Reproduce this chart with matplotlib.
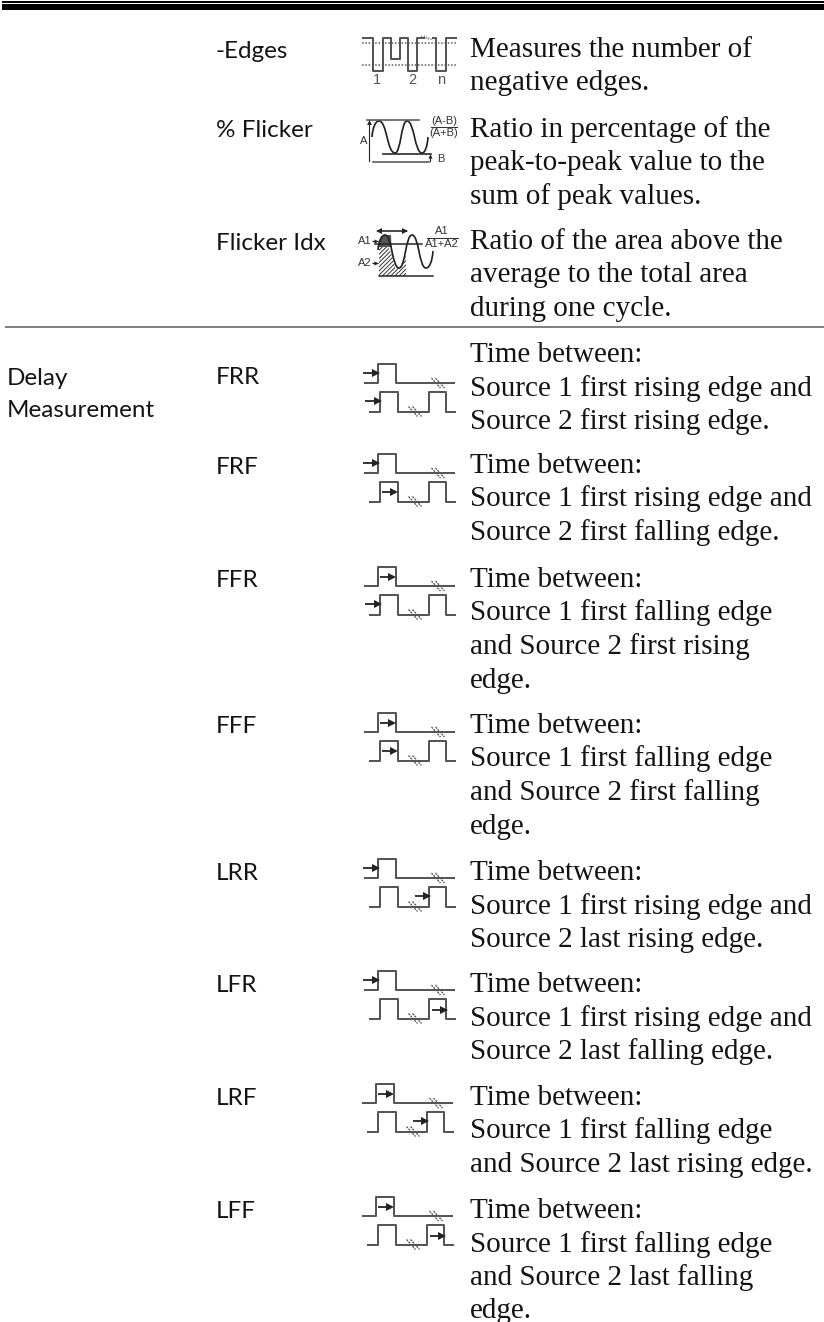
import matplotlib
matplotlib.use('Agg')
import matplotlib.pyplot as plt
from matplotlib.path import Path
from matplotlib.patches import PathPatch

# table content
names = ['-Edges', '% Flicker', 'Flicker Idx', 'FRR', 'FRF', 'FFR', 'FFF', 'LRR', 'LFR', 'LRF', 'LFF']
name_base = [58, 137, 250, 384, 474, 587, 733, 880, 992, 1105, 1218]
desc_base = [57, 137, 249, 362, 473, 587, 733, 880, 992, 1105, 1218]
descs = [
    ['Measures the number of', 'negative edges.'],
    ['Ratio in percentage of the', 'peak-to-peak value to the', 'sum of peak values.'],
    ['Ratio of the area above the', 'average to the total area', 'during one cycle.'],
    ['Time between:', 'Source 1 first rising edge and', 'Source 2 first rising edge.'],
    ['Time between:', 'Source 1 first rising edge and', 'Source 2 first falling edge.'],
    ['Time between:', 'Source 1 first falling edge', 'and Source 2 first rising', 'edge.'],
    ['Time between:', 'Source 1 first falling edge', 'and Source 2 first falling', 'edge.'],
    ['Time between:', 'Source 1 first rising edge and', 'Source 2 last rising edge.'],
    ['Time between:', 'Source 1 first rising edge and', 'Source 2 last falling edge.'],
    ['Time between:', 'Source 1 first falling edge', 'and Source 2 last rising edge.'],
    ['Time between:', 'Source 1 first falling edge', 'and Source 2 last falling', 'edge.'],
]
group_labels = ['Delay', 'Measurement']
group_base = [385, 417]

# delay icons: top of the icon, x shift, arrow on source 1, arrow on source 2
icon_top = [364, 454, 567, 713, 859, 971, 1084, 1197]
icon_dx = [0, 0, 0, 0, 0, 0, -2, -2]
icon_arrow1 = ['before', 'before', 'inside', 'inside', 'before', 'before', 'inside', 'inside']
icon_arrow2 = ['before', 'inside', 'before', 'inside', 'last_before', 'last_inside', 'last_before', 'last_inside']

INK = '#141414'
GREY = '#555555'
LINE_SPACE = 33.5


def px(w):
    return w * 0.72


def wave(ax, pts, color='#222222', lw=1.7):
    # curve through extremes with level tangents, steep at the two loose ends
    verts = [pts[0]]
    codes = [Path.MOVETO]
    last = len(pts) - 2
    for i, ((x0, y0), (x1, y1)) in enumerate(zip(pts[:-1], pts[1:])):
        mx = (x0 + x1) / 2
        c0 = (mx, y0)
        c1 = (mx, y1)
        if i == 0:
            c0 = (x0 + (x1 - x0) * 0.1, y0 + (y1 - y0) * 0.6)
        if i == last:
            c1 = (x1 - (x1 - x0) * 0.1, y1 - (y1 - y0) * 0.6)
        verts += [c0, c1, (x1, y1)]
        codes += [Path.CURVE4] * 3
    ax.add_patch(PathPatch(Path(verts, codes), fill=False, ec=color, lw=px(lw)))


def arrow(ax, x0, x1, y, color='#222222', lw=1.8, ms=5.5):
    ax.plot([x0, x1], [y, y], color=color, lw=px(lw), solid_capstyle='butt')
    ax.plot([x1 - 1.5], [y], marker='>', ms=ms, color=color, mew=0)


def hatch_break(ax, x, y):
    for off in (0, 4):
        ax.plot([x + off - 4.5, x + off + 4.5], [y - 5, y + 5], color='#555555', lw=px(1.3), ls=(0, (1.6, 0.7)))


def delay_icon(ax, top, dx, a1, a2):
    low1 = top + 19
    top2 = top + 28
    low2 = top + 47.5
    ax.plot([x + dx for x in (365, 378, 378, 396, 396, 454)],
            [low1, low1, top, top, low1, low1], color=GREY, lw=px(2))
    ax.plot([x + dx for x in (370, 380, 380, 398, 398, 429, 429, 446, 446, 455)],
            [low2, low2, top2, top2, low2, low2, top2, top2, low2, low2], color=GREY, lw=px(2))
    hatch_break(ax, 436 + dx, low1)
    hatch_break(ax, 413 + dx, low2)
    if a1 == 'before':
        arrow(ax, 363 + dx, 378 + dx, top + 9)
    else:
        arrow(ax, 380 + dx, 394 + dx, top + 10)
    pos = {'before': (365, 380, 37), 'inside': (382, 396, 38),
           'last_before': (415, 429, 37), 'last_inside': (432, 446, 39)}[a2]
    arrow(ax, pos[0] + dx, pos[1] + dx, top + pos[2])


def edges_icon(ax):
    xs = [363, 373, 373, 383, 383, 391, 391, 400, 400, 408, 408, 417, 417, 424]
    ys = [38, 38, 71, 71, 38, 38, 59, 59, 38, 38, 71, 71, 38, 38]
    ax.plot(xs, ys, color=GREY, lw=px(2))
    ax.plot([433, 436, 436, 446, 446, 456], [38, 38, 71, 71, 38, 38], color=GREY, lw=px(2))
    ax.plot([424, 433], [36, 40], color='#777777', lw=px(1.2), ls=(0, (1, 1)))
    ax.plot([421, 430], [36, 40], color='#777777', lw=px(1.2), ls=(0, (1, 1)))
    for y in (43, 65):
        ax.plot([362, 456], [y, y], color='#555555', lw=px(1.5), ls=(0, (1, 1.2)))
    for x, s in zip((377, 412, 441), ('1', '2', 'n')):
        ax.text(x, 84, s, ha='center', va='baseline', fontsize=10.5, color='#555555', family='Liberation Sans')


def small(ax, x, y, s, size=8):
    ax.text(x, y, s, ha='center', va='center', fontsize=size, color='#333333', family='Liberation Sans')


def percent_icon(ax):
    ax.plot([367, 419], [120, 120], color=GREY, lw=px(1.6))
    ax.plot([373, 429], [161.5, 161.5], color=GREY, lw=px(1.6))
    ax.plot([383, 431], [154, 154], color='#222222', lw=px(1.6))
    ax.plot([369.5, 369.5], [122, 161], color='#222222', lw=px(1.1))
    ax.plot([369.5], [122], marker='^', ms=3.5, color='#222222', mew=0)
    ax.plot([430, 430], [155, 161], color='#222222', lw=px(1.1))
    ax.plot([430], [156], marker='^', ms=3, color='#222222', mew=0)
    wave(ax, [(372, 137), (379, 121), (395, 153), (407, 121), (422, 153), (428, 137)])
    small(ax, 364, 141, 'A')
    small(ax, 441, 158.5, 'B')
    small(ax, 444, 121, '(A-B)')
    small(ax, 444, 133, '(A+B)')
    ax.plot([431, 457], [127, 127], color='#333333', lw=px(1))


def index_icon(ax):
    # shaded area first, wave on top
    plt.rcParams['hatch.linewidth'] = 0.7
    low = PathPatch(Path([(379, 244), (379, 276), (406, 276), (406, 254), (403, 268), (399, 268),
                          (395, 268), (392, 255), (391, 244), (379, 244)],
                         [Path.MOVETO, Path.LINETO, Path.LINETO, Path.LINETO, Path.CURVE4, Path.CURVE4,
                          Path.CURVE4, Path.CURVE4, Path.CURVE4, Path.CLOSEPOLY]),
                    fc='white', ec='#333333', hatch='////////', lw=0)
    ax.add_patch(low)
    high = PathPatch(Path([(379, 247), (379, 235), (385, 235), (391, 235), (391.5, 247), (379, 247)],
                          [Path.MOVETO, Path.CURVE4, Path.CURVE4, Path.CURVE4, Path.LINETO, Path.CLOSEPOLY]),
                     fc='#555555', ec='#555555', lw=0)
    ax.add_patch(high)
    ax.plot([375, 422], [244, 244], color='#222222', lw=px(1.5))
    ax.plot([379, 433], [276, 276], color='#222222', lw=px(1.5))
    wave(ax, [(378, 250), (385, 235), (399, 268), (412, 235), (426, 268), (433, 251)])
    arrow(ax, 379, 407, 231, ms=4.5, lw=1.6)
    ax.plot([379.5], [231], marker='<', ms=4.5, color='#222222', mew=0)
    arrow(ax, 372, 378, 241, ms=3, lw=1.2)
    arrow(ax, 372, 378, 263, ms=3, lw=1.2)
    small(ax, 365, 241, 'A1')
    small(ax, 365, 263, 'A2')
    small(ax, 442, 231, 'A1')
    small(ax, 442, 244, 'A1+A2')
    ax.plot([427, 458], [237.5, 237.5], color='#333333', lw=px(1))


fig = plt.figure(figsize=(8.24, 13.22), dpi=100)
ax = fig.add_axes([0, 0, 1, 1])
ax.set_xlim(0, 824)
ax.set_ylim(1322, 0)
ax.axis('off')

# page rules
ax.hlines(2, 2, 824, color='black', lw=px(2))
ax.hlines(7, 2, 824, color='black', lw=px(6))
ax.hlines(326.5, 5, 824, color='#808080', lw=px(2))

for name, y in zip(names, name_base):
    ax.text(216, y, name, fontsize=17.5, family='Lato', color=INK, va='baseline')
for s, y in zip(group_labels, group_base):
    ax.text(7, y, s, fontsize=17.5, family='Lato', color=INK, va='baseline')
for lines, y0 in zip(descs, desc_base):
    for i, s in enumerate(lines):
        ax.text(470, y0 + i * LINE_SPACE, s, fontsize=21, family='Liberation Serif', color=INK, va='baseline')

edges_icon(ax)
percent_icon(ax)
index_icon(ax)
for top, dx, a1, a2 in zip(icon_top, icon_dx, icon_arrow1, icon_arrow2):
    delay_icon(ax, top, dx, a1, a2)

plt.savefig('out.png', dpi=100)
plt.close()
